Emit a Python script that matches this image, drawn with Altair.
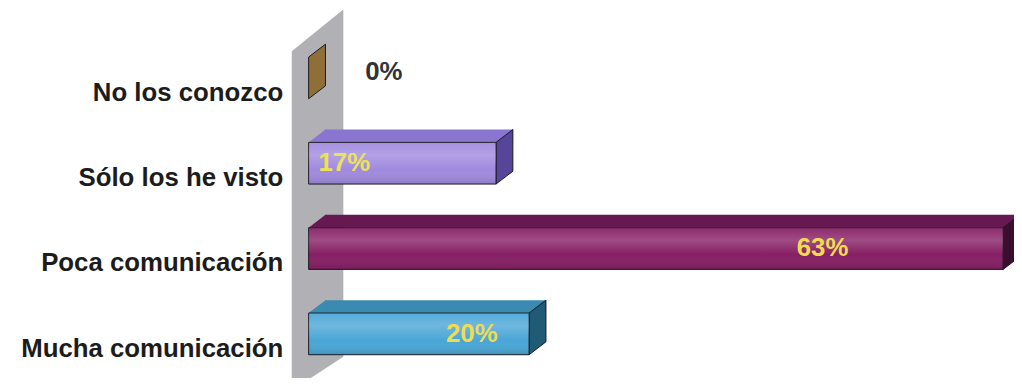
import altair as alt
import pandas as pd

categories = ["No los conozco", "Sólo los he visto", "Poca comunicación", "Mucha comunicación"]
values = [0, 17, 63, 20]
labels = ["0%", "17%", "63%", "20%"]

front_colors = ["#a07c42", "#a08ade", "#861f64", "#4aa6d6"]
top_colors = ["#8a6a36", "#8a76d0", "#661850", "#3a8ab2"]
side_colors = ["#8f6e38", "#55469a", "#3a0e2c", "#1f5b75"]

df = pd.DataFrame({"cat": categories, "value": values, "label": labels})

W, H = 704, 344
XMAX = 63.36
DX, DY = 17, 13
BH = 42
HB = BH / 2
U = 50.0  # px per shape unit for size 10000


def path(points, unit=U):
    parts = []
    for i, (px, py) in enumerate(points):
        parts.append(("M" if i == 0 else "L") + f" {px / unit:.4f} {py / unit:.4f}")
    return " ".join(parts) + " Z"


side_path = path([(0, -HB), (DX, -HB - DY), (DX, HB - DY), (0, HB)])
top_left_path = path([(0, -HB), (DX, -HB - DY), (DX + 1, -HB - DY), (DX + 1, -HB)])
wall_path = path([(-26, -150), (26, -192), (26, 158), (-26, 192)], unit=100.0)

x_scale = alt.Scale(domain=[0, XMAX], nice=False, zero=True)
y_scale = alt.Scale(domain=categories, paddingInner=0, paddingOuter=0)

y_axis = alt.Axis(
    title=None, domain=False, ticks=False, grid=False,
    labelFont="Liberation Sans", labelFontSize=26, labelFontWeight="bold",
    labelColor="#1c1c1c", labelPadding=26, labelOffset=15, labelLimit=500,
)

Y = alt.Y("cat:N", sort=categories, scale=y_scale, axis=y_axis)
X = alt.X("value:Q", scale=x_scale, axis=None)
X0 = alt.X("zero:Q", scale=x_scale, axis=None)


def col(rng):
    return alt.Color("cat:N", scale=alt.Scale(domain=categories, range=rng), legend=None)


base = alt.Chart(df).transform_calculate(zero="0")

wall = base.transform_filter("datum.value == 0").mark_point(
    shape=wall_path, size=40000, filled=True, opacity=1, color="#b0b0b5"
).encode(x=alt.value(9), y=alt.value(166))

top_rect = base.transform_filter("datum.value > 0").mark_bar(
    height=DY, yOffset=-(HB + DY / 2), xOffset=DX, x2Offset=DX
).encode(x=X, y=Y, color=col(top_colors))

top_left = base.transform_filter("datum.value > 0").mark_point(
    shape=top_left_path, size=10000, filled=True, opacity=1
).encode(x=X0, y=Y, color=col(top_colors))

side = base.mark_point(
    shape=side_path, size=10000, filled=True, opacity=1, stroke="#1a1a22", strokeWidth=1
).encode(x=X, y=Y, color=col(side_colors))

front = base.transform_filter("datum.value > 0").mark_bar(
    height=BH, stroke="#1a1a22", strokeWidth=1
).encode(x=X, y=Y, color=col(front_colors))

shine = base.transform_filter("datum.value > 0").mark_bar(
    height=BH,
    color=alt.Gradient(
        gradient="linear", x1=0, x2=0, y1=0, y2=1,
        stops=[
            alt.GradientStop(offset=0, color="rgba(255,255,255,0.06)"),
            alt.GradientStop(offset=0.3, color="rgba(255,255,255,0.20)"),
            alt.GradientStop(offset=0.65, color="rgba(255,255,255,0.0)"),
            alt.GradientStop(offset=1, color="rgba(0,0,0,0.12)"),
        ],
    ),
).encode(x=X, y=Y)

txt = dict(font="Liberation Sans", fontSize=26, fontWeight="bold")

zero_lbl = base.transform_filter("datum.value == 0").mark_text(
    align="left", dx=57, dy=-6, color="#333333", **txt
).encode(x=X, y=Y, text="label:N")

small_lbl = base.transform_filter("datum.value > 0 && datum.value < 18").mark_text(
    align="left", dx=10, color="#ece25a", **txt
).encode(x=X0, y=Y, text="label:N")

big_lbl = base.transform_filter("datum.value >= 18").transform_calculate(
    lx="datum.value * 0.74"
).mark_text(align="center", color="#f0dc50", **txt).encode(
    x=alt.X("lx:Q", scale=x_scale, axis=None), y=Y, text="label:N"
)

chart = alt.layer(
    wall, top_rect, top_left, side, front, shine, zero_lbl, small_lbl, big_lbl
).resolve_scale(color="independent").properties(
    width=W, height=H,
    padding={"left": 303, "top": 26, "right": 7, "bottom": 0},
    autosize=alt.AutoSizeParams(type="none"),
    background="white",
).configure_view(stroke=None)

chart.save("out.html", embed_options={"renderer": "svg", "actions": False})
